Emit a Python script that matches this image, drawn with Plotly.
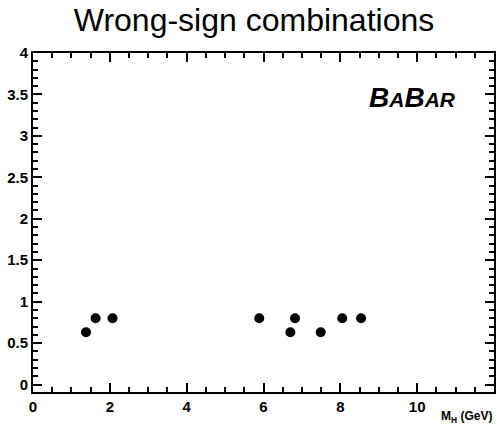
import plotly.graph_objects as go

# Data
mass_gev = [1.38, 1.63, 2.07, 5.89, 6.70, 6.82, 7.49, 8.05, 8.54]
counts = [0.63, 0.80, 0.80, 0.80, 0.63, 0.80, 0.63, 0.80, 0.80]
x_ticks = [0, 2, 4, 6, 8, 10, 12]
y_ticks = [0, 0.5, 1, 1.5, 2, 2.5, 3, 3.5, 4]
y_tick_labels = ["0", "0.5", "1", "1.5", "2", "2.5", "3", "3.5", "4"]

fig = go.Figure()
fig.add_trace(go.Scatter(
    x=mass_gev, y=counts, mode="markers",
    marker=dict(color="black", size=10, symbol="circle"),
    showlegend=False,
))

axis_common = dict(
    showline=True, linecolor="black", linewidth=2, mirror="ticks",
    ticks="inside", ticklen=9, tickwidth=2, tickcolor="black",
    showgrid=False, zeroline=False, automargin=False,
    tickfont=dict(family="Liberation Sans, Arial", size=15, color="black", weight="bold"),
)

fig.update_xaxes(
    range=[0, 12], tickvals=x_ticks, ticktext=[str(v) for v in x_ticks],
    minor=dict(dtick=0.5, ticks="inside", ticklen=5, tickwidth=2, tickcolor="black"),
    ticklabelstandoff=0,
    **axis_common,
)
fig.update_yaxes(
    range=[-0.09, 4], tickvals=y_ticks, ticktext=y_tick_labels,
    minor=dict(dtick=0.1, tick0=0, ticks="inside", ticklen=5, tickwidth=2, tickcolor="black"),
    ticklabelstandoff=0,
    **axis_common,
)

fig.update_layout(
    width=500, height=426,
    margin=dict(l=33, r=6, t=53, b=34),
    paper_bgcolor="white", plot_bgcolor="white",
    title=dict(text="Wrong-sign combinations", x=0.508, xanchor="center", xref="container",
               y=0.953, yanchor="middle",
               font=dict(family="Liberation Sans, Arial", size=32, color="black")),
    annotations=[
        dict(text="<b><i>B<span style='font-size:21px'>A</span>B<span style='font-size:21px'>AR</span></i></b>",
             xref="paper", yref="paper", x=0.922, y=0.87, xanchor="right", yanchor="middle",
             showarrow=False, font=dict(family="Liberation Sans, Arial", size=28, color="black")),
        dict(text="<b>M<sub>H</sub> (GeV)</b>",
             xref="paper", yref="paper", x=1.0, y=-0.075, xanchor="right", yanchor="middle",
             showarrow=False, font=dict(family="Liberation Sans, Arial", size=12, color="black")),
    ],
)

# remove the default 8px page margin so the figure fills the window exactly
fig.write_html("out.html", config={"displayModeBar": False},
               post_script="document.body.style.margin='0';")
